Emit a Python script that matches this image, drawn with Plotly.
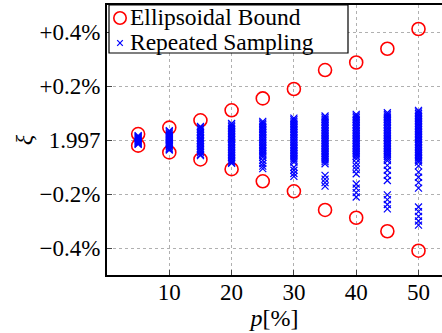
import plotly.graph_objects as go

# sampling percentage p [%]
p_values = [5, 10, 15, 20, 25, 30, 35, 40, 45, 50]

# Ellipsoidal bound: deviation from 1.997 in percent
bound_upper = [0.022, 0.046, 0.073, 0.110, 0.154, 0.189, 0.259, 0.287, 0.338, 0.411]
bound_lower = [-0.021, -0.046, -0.072, -0.108, -0.153, -0.190, -0.259, -0.288, -0.338, -0.410]

# Repeated sampling: deviation from 1.997 in percent, per p
rs_p5 = [0.016, 0.013, 0.010, 0.007, 0.004, 0.001, -0.002, -0.005, -0.008, -0.011, -0.014, -0.016]
rs_p10 = [0.035, 0.031, 0.026, 0.022, 0.017, 0.013, 0.009, 0.005, 0.001, -0.003, -0.008, -0.012,
          -0.016, -0.021, -0.025, -0.030, -0.034, -0.037]
rs_p15 = [0.050, 0.045, 0.039, 0.033, 0.027, 0.022, 0.016, 0.010, 0.005, -0.001, -0.007, -0.012,
          -0.018, -0.024, -0.030, -0.035, -0.041, -0.047, -0.053, -0.058]
rs_p20 = [0.061, 0.055, 0.049, 0.043, 0.037, 0.031, 0.025, 0.019, 0.013, 0.007, 0.002, -0.004,
          -0.010, -0.016, -0.022, -0.028, -0.034, -0.040, -0.046, -0.052, -0.058, -0.064, -0.070,
          -0.076, -0.082, -0.086]
rs_p25 = [0.069, 0.063, 0.057, 0.051, 0.045, 0.039, 0.033, 0.027, 0.021, 0.015, 0.009, 0.003,
          -0.003, -0.009, -0.015, -0.021, -0.027, -0.033, -0.039, -0.045, -0.051, -0.057, -0.064,
          -0.076, -0.087, -0.097, -0.106]
rs_p30 = [0.081, 0.075, 0.069, 0.063, 0.057, 0.051, 0.045, 0.039, 0.033, 0.027, 0.021, 0.015,
          0.009, 0.003, -0.003, -0.009, -0.015, -0.021, -0.027, -0.033, -0.039, -0.045, -0.051,
          -0.057, -0.063, -0.069, -0.075, -0.082, -0.101, -0.112, -0.124, -0.135]
rs_p35 = [0.089, 0.083, 0.077, 0.071, 0.065, 0.059, 0.053, 0.047, 0.041, 0.035, 0.029, 0.023,
          0.017, 0.011, 0.005, -0.001, -0.007, -0.013, -0.019, -0.025, -0.031, -0.037, -0.043,
          -0.049, -0.055, -0.061, -0.067, -0.073, -0.080, -0.088, -0.131, -0.145, -0.158, -0.171]
rs_p40 = [0.095, 0.089, 0.083, 0.077, 0.071, 0.065, 0.059, 0.053, 0.047, 0.041, 0.035, 0.029,
          0.023, 0.017, 0.011, 0.005, -0.001, -0.007, -0.013, -0.019, -0.025, -0.031, -0.037,
          -0.043, -0.049, -0.055, -0.061, -0.070, -0.085, -0.097, -0.110, -0.125, -0.163, -0.178,
          -0.195, -0.211]
rs_p45 = [0.101, 0.095, 0.089, 0.083, 0.077, 0.071, 0.065, 0.059, 0.053, 0.047, 0.041, 0.035,
          0.029, 0.023, 0.017, 0.011, 0.005, -0.001, -0.007, -0.013, -0.019, -0.025, -0.031,
          -0.037, -0.043, -0.049, -0.055, -0.061, -0.068, -0.076, -0.094, -0.112, -0.131, -0.150,
          -0.203, -0.221, -0.239, -0.255]
rs_p50 = [0.110, 0.104, 0.098, 0.092, 0.086, 0.080, 0.074, 0.068, 0.062, 0.056, 0.050, 0.044,
          0.038, 0.032, 0.026, 0.020, 0.014, 0.008, 0.002, -0.004, -0.010, -0.016, -0.022, -0.028,
          -0.034, -0.040, -0.046, -0.052, -0.058, -0.064, -0.070, -0.076, -0.082, -0.096, -0.119,
          -0.138, -0.158, -0.178, -0.248, -0.265, -0.283, -0.300, -0.315]
rs_all = [rs_p5, rs_p10, rs_p15, rs_p20, rs_p25, rs_p30, rs_p35, rs_p40, rs_p45, rs_p50]

series_names = ["Ellipsoidal Bound", "Repeated Sampling"]
y_tick_vals = [-0.4, -0.2, 0.0, 0.2, 0.4]
y_tick_text = ["\u22120.4%", "\u22120.2%", "1.997", "+0.2%", "+0.4%"]
x_tick_vals = [10, 20, 30, 40, 50]

FONT = "Liberation Serif"
RED = "#ff0000"
BLUE = "#0000ff"

rs_x, rs_y = [], []
for p, vals in zip(p_values, rs_all):
    rs_x += [p] * len(vals)
    rs_y += vals

fig = go.Figure()
fig.add_trace(go.Scatter(
    x=p_values + p_values, y=bound_upper + bound_lower, mode="markers",
    name=series_names[0], showlegend=False,
    marker=dict(symbol="circle-open", size=13, color=RED, line=dict(width=1.6, color=RED)),
))
fig.add_trace(go.Scatter(
    x=rs_x, y=rs_y, mode="markers", name=series_names[1], showlegend=False,
    marker=dict(symbol="x-thin-open", size=7, color=BLUE, line=dict(width=1.2, color=BLUE)),
))

# ---- legend box drawn in paper coordinates (plot area: 335 x 270 px) ----
PW, PH = 335.0, 270.0
def px_x(px):
    return px / PW
def px_y(py):  # py measured downward from plot top
    return 1.0 - py / PH

shapes = [
    dict(type="rect", xref="paper", yref="paper", layer="above",
         x0=px_x(2), x1=px_x(241), y0=px_y(48), y1=px_y(0),
         line=dict(color="black", width=1.2), fillcolor="white"),
    # circle symbol
    dict(type="circle", xref="paper", yref="paper", layer="above",
         x0=px_x(13 - 6.2), x1=px_x(13 + 6.2), y0=px_y(13 + 6.2), y1=px_y(13 - 6.2),
         line=dict(color=RED, width=1.6)),
    # x symbol
    dict(type="line", xref="paper", yref="paper", layer="above",
         x0=px_x(13 - 2.8), x1=px_x(13 + 2.8), y0=px_y(38 - 2.8), y1=px_y(38 + 2.8),
         line=dict(color=BLUE, width=1.2)),
    dict(type="line", xref="paper", yref="paper", layer="above",
         x0=px_x(13 - 2.8), x1=px_x(13 + 2.8), y0=px_y(38 + 2.8), y1=px_y(38 - 2.8),
         line=dict(color=BLUE, width=1.2)),
]
annotations = [
    dict(text=series_names[0], xref="paper", yref="paper", x=px_x(22), y=px_y(11.5),
         xanchor="left", yanchor="middle", showarrow=False, borderpad=0,
         font=dict(family=FONT, size=23.5, color="black")),
    dict(text=series_names[1], xref="paper", yref="paper", x=px_x(22), y=px_y(37.5),
         xanchor="left", yanchor="middle", showarrow=False, borderpad=0,
         font=dict(family=FONT, size=23.5, color="black")),
]

fig.update_layout(
    width=442, height=333,
    margin=dict(l=107, r=0, t=5, b=58),
    paper_bgcolor="white", plot_bgcolor="white",
    font=dict(family=FONT, size=23, color="black"),
    showlegend=False,
    shapes=shapes,
    annotations=annotations,
    xaxis=dict(
        range=[0, 53.77], tickvals=x_tick_vals, ticks="inside", ticklen=5, tickwidth=1,
        showline=True, linecolor="black", linewidth=2, mirror=True,
        showgrid=True, gridcolor="#b0b0b0", griddash="dot", gridwidth=1, zeroline=False,
        title=dict(text="<i>p</i>[%]", font=dict(family=FONT, size=24), standoff=0),
        tickfont=dict(family=FONT, size=23), ticklabelstandoff=-5,
    ),
    yaxis=dict(
        range=[-0.5, 0.5], tickvals=y_tick_vals, ticktext=y_tick_text, ticks="inside", ticklen=5,
        tickwidth=1, showline=True, linecolor="black", linewidth=2, mirror=False,
        showgrid=True, gridcolor="#b0b0b0", griddash="dot", gridwidth=1, zeroline=False,
        title=dict(text="<i>\u03be</i>", font=dict(family=FONT, size=24), standoff=0),
        tickfont=dict(family=FONT, size=23),
    ),
)

fig.write_html("out.html")
